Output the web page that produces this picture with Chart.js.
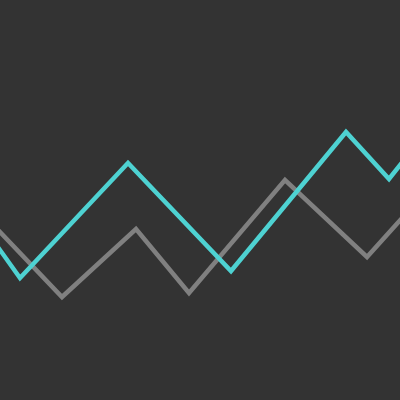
<!DOCTYPE html>
<html><head><meta charset="utf-8">
<script src="https://cdn.jsdelivr.net/npm/chart.js@4"></script>
<style>html,body{margin:0;padding:0;background:#333333;}#wrap{width:400px;height:400px;}</style>
</head><body><div id="wrap"><canvas id="c"></canvas></div>
<script>
const cyanX = [-20, 20, 128, 231, 346, 389, 420];
const cyanY = [178, 122, 237, 129, 268, 221, 260];
const grayX = [-20, 62, 136, 189, 285, 367, 420];
const grayY = [189, 103, 171, 107, 220, 143, 202];
const toPts = (xs, ys) => xs.map((x, i) => ({x: x, y: ys[i]}));
new Chart(document.getElementById('c'), {
  type: 'line',
  data: {datasets: [
    {data: toPts(cyanX, cyanY), borderColor: '#4ed2d2', borderWidth: 4.5, pointRadius: 0, tension: 0, fill: false},
    {data: toPts(grayX, grayY), borderColor: '#808080', borderWidth: 4.5, pointRadius: 0, tension: 0, fill: false}
  ]},
  options: {
    responsive: true, maintainAspectRatio: false, animation: false,
    layout: {padding: 0},
    plugins: {legend: {display: false}, tooltip: {enabled: false}},
    scales: {
      x: {type: 'linear', min: 0, max: 400, display: false},
      y: {min: 0, max: 400, display: false}
    }
  }
});
</script></body></html>
